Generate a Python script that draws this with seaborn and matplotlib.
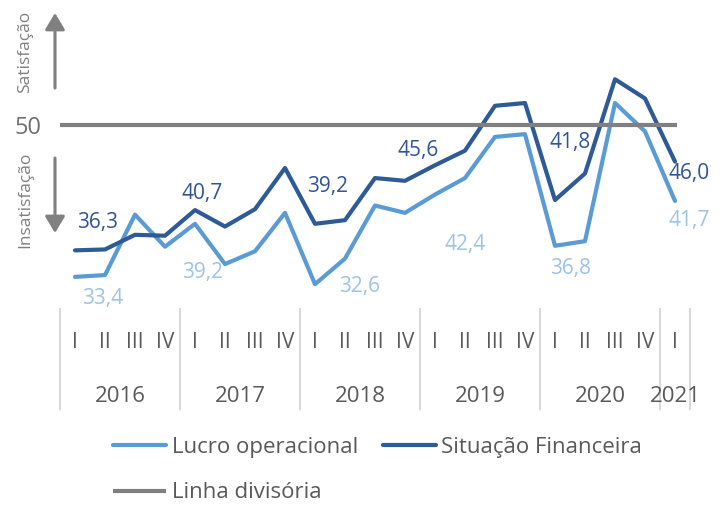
import pandas as pd
import matplotlib
matplotlib.use('Agg')
import matplotlib.pyplot as plt
import seaborn as sns

sns.set_style('white')
plt.rcParams['font.family'] = ['Open Sans', 'DejaVu Sans']

quarters = ['I', 'II', 'III', 'IV'] * 5 + ['I']
years = ['2016', '2017', '2018', '2019', '2020', '2021']
year_sizes = [4, 4, 4, 4, 4, 1]
lucro = [33.4, 33.6, 40.2, 36.7, 39.2, 34.8, 36.2, 40.4, 32.6, 35.4, 41.2,
         40.4, 42.4, 44.2, 48.7, 49.0, 36.8, 37.3, 52.4, 49.3, 41.7]
situacao = [36.3, 36.4, 38.0, 37.9, 40.7, 38.9, 40.8, 45.3, 39.2, 39.6, 44.2,
            43.9, 45.6, 47.2, 52.1, 52.4, 41.8, 44.7, 55.0, 52.9, 46.0]
divisoria = 50
labeled = [0, 4, 8, 12, 16, 20]

# label offsets in pixels (dx, dy up)
off_sit = [(23, 28), (7, 17), (13, 37), (-17, 15), (15, 58), (14, -12)]
off_luc = [(28, -22), (8, -49), (45, -2), (30, -50), (16, -23), (14, -20)]

c_light = '#5B9BD5'
c_dark = '#2E5A96'
c_gray = '#808080'
c_text = '#595959'

df = pd.DataFrame({'x': range(len(quarters)), 'lucro': lucro, 'situacao': situacao})

W, H = 724, 508
fig = plt.figure(figsize=(W / 100, H / 100), dpi=100)
ax_l, ax_r, ax_t, ax_b = 60, 690, 10, 300
ax = fig.add_axes([ax_l / W, (H - ax_b) / H, (ax_r - ax_l) / W, (ax_b - ax_t) / H])

px = 9.15  # pixels per unit
ax.set_xlim(-0.5, 20.5)
ax.set_ylim(50 - (ax_b - 125) / px, 50 + (125 - ax_t) / px)

sns.lineplot(data=df, x='x', y='lucro', ax=ax, color=c_light, lw=3, label='Lucro operacional')
sns.lineplot(data=df, x='x', y='situacao', ax=ax, color=c_dark, lw=3, label='Situação Financeira')
ax.hlines(divisoria, -0.87, 20.07, color=c_gray, lw=3, label='Linha divisória', zorder=3)

for i, (d1, d2) in zip(labeled, zip(off_sit, off_luc)):
    ax.annotate(f'{situacao[i]:.1f}'.replace('.', ','), (i, situacao[i]),
                xytext=(d1[0] * 0.72, d1[1] * 0.72), textcoords='offset points',
                ha='center', va='center', fontsize=15, color='#2F5597')
    ax.annotate(f'{lucro[i]:.1f}'.replace('.', ','), (i, lucro[i]),
                xytext=(d2[0] * 0.72, d2[1] * 0.72), textcoords='offset points',
                ha='center', va='center', fontsize=15, color='#9DC3E6')

for s in ax.spines.values():
    s.set_visible(False)
ax.set_xticks([])
ax.set_yticks([50])
ax.set_yticklabels(['50'], fontsize=17, color='#707070')
ax.tick_params(axis='y', length=0, pad=13)
ax.set_xlabel('')
ax.set_ylabel('')

# category axis below the plot
tr = ax.get_xaxis_transform()
hgt = ax_b - ax_t
fy = lambda p: (ax_b - p) / hgt
seps = [-0.5]
for n in year_sizes:
    seps.append(seps[-1] + n)
ax.vlines(seps, fy(410), fy(308), transform=tr, colors='#D9D9D9', lw=1.5, clip_on=False)
for i, q in enumerate(quarters):
    ax.text(i, fy(343), q, transform=tr, ha='center', va='center', fontsize=15, color=c_text)
for k, y in enumerate(years):
    ax.text((seps[k] + seps[k + 1]) / 2, fy(396), y, transform=tr, ha='center', va='center',
            fontsize=16, color=c_text)

# satisfaction arrows
arr = dict(arrowstyle='-|>,head_length=0.5,head_width=0.3', color=c_gray, lw=2.2,
           shrinkA=0, shrinkB=0, mutation_scale=20)
fig.text(25 / W, 1 - 52 / H, 'Satisfação', rotation=90, ha='center', va='center',
         fontsize=12.5, color=c_gray)
fig.text(25 / W, 1 - 200 / H, 'Insatisfação', rotation=90, ha='center', va='center',
         fontsize=12.5, color=c_gray)
ax.annotate('', xy=(55, H - 13), xytext=(55, H - 88), xycoords='figure pixels',
            textcoords='figure pixels', arrowprops=arr)
ax.annotate('', xy=(55, H - 233), xytext=(55, H - 158), xycoords='figure pixels',
            textcoords='figure pixels', arrowprops=arr)

h, l = ax.get_legend_handles_labels()
order = [0, 2, 1]
ax.legend().remove()
fig.legend([h[k] for k in order], [l[k] for k in order], ncol=2, frameon=False,
           loc='upper left', bbox_to_anchor=(113 / W, 1 - 437 / H), fontsize=16,
           labelcolor=c_text, handlelength=2.4, handletextpad=0.25, columnspacing=1.1,
           labelspacing=1.1, borderpad=0, borderaxespad=0)

fig.savefig('out.png', dpi=100)
